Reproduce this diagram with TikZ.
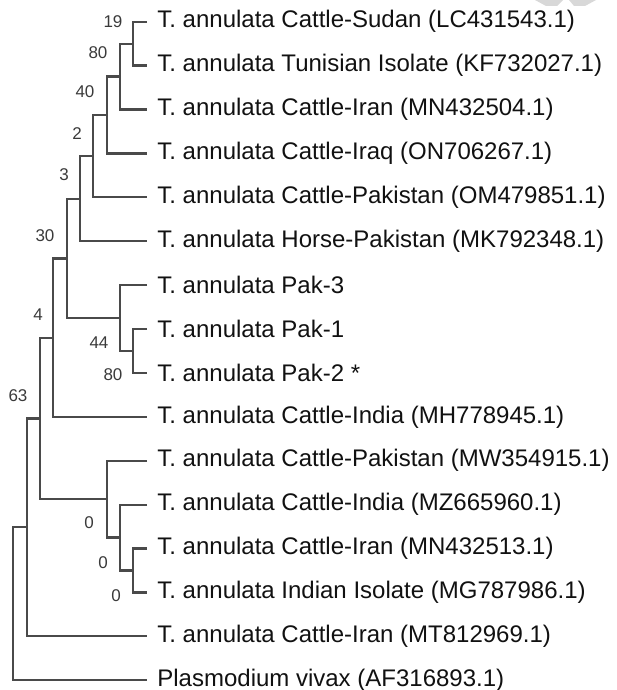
\documentclass[tikz,border=0pt]{standalone}
\usepackage{fontspec}
\setmainfont{Liberation Sans}
\definecolor{TreeGray}{HTML}{4A4A4A}
\definecolor{BootGray}{HTML}{3A3A3A}
\definecolor{TaxonBlack}{HTML}{111111}
\definecolor{MarkGray}{HTML}{D8D8D8}
\usetikzlibrary{calc, positioning}

\tikzset{
  taxon/.style={anchor=west, inner sep=0pt, inner xsep=5pt,
     font=\fontsize{12}{14}\selectfont, text=TaxonBlack},
  boot/.style={font=\fontsize{8.5}{10}\selectfont, text=BootGray, inner sep=0pt},
  branch/.style={TreeGray, line width=1.1pt}
}

\begin{document}
\begin{tikzpicture}[x=0.5pt, y=-0.5pt]
   \useasboundingbox (0,0) rectangle (616,690);
   % faint mark, top right
   \fill[MarkGray] (535,0) -- (563,0) -- (557,6) -- (546,6) -- cycle;
   \fill[MarkGray] (569,0) -- (596,0) -- (585,6) -- (574,6) -- cycle;
   % taxa
   \node[taxon] (sudan) at (147,21.7) {T. annulata Cattle-Sudan (LC431543.1)};
   \node[taxon] (tunis) at (147,65.6) {T. annulata Tunisian Isolate (KF732027.1)};
   \node[taxon] (iranA) at (147,109.5) {T. annulata Cattle-Iran (MN432504.1)};
   \node[taxon] (iraq) at (147,153.4) {T. annulata Cattle-Iraq (ON706267.1)};
   \node[taxon] (pakA) at (147,197.3) {T. annulata Cattle-Pakistan (OM479851.1)};
   \node[taxon] (horse) at (147,241.2) {T. annulata Horse-Pakistan (MK792348.1)};
   \node[taxon] (pak3) at (147,285.1) {T. annulata Pak-3};
   \node[taxon] (pak1) at (147,329.0) {T. annulata Pak-1};
   \node[taxon] (pak2) at (147,372.9) {T. annulata Pak-2 *};
   \node[taxon] (indiaA) at (147,416.8) {T. annulata Cattle-India (MH778945.1)};
   \node[taxon] (pakB) at (147,460.7) {T. annulata Cattle-Pakistan (MW354915.1)};
   \node[taxon] (indiaB) at (147,504.6) {T. annulata Cattle-India (MZ665960.1)};
   \node[taxon] (iranB) at (147,548.5) {T. annulata Cattle-Iran (MN432513.1)};
   \node[taxon] (indIso) at (147,592.4) {T. annulata Indian Isolate (MG787986.1)};
   \node[taxon] (iranC) at (147,636.3) {T. annulata Cattle-Iran (MT812969.1)};
   \node[taxon] (vivax) at (147,680.2) {Plasmodium vivax (AF316893.1)};
   % inner nodes
   \coordinate (kA) at (133,43.65);
   \coordinate (kB) at (120,76.6);
   \coordinate (kC) at (107,115.0);
   \coordinate (kD) at (93,156.1);
   \coordinate (kE) at (80,198.7);
   \coordinate (kP1) at (133,350.95);
   \coordinate (kP) at (120,318.0);
   \coordinate (kF) at (67,258.4);
   \coordinate (kG) at (53,337.6);
   \coordinate (kQ3) at (133,570.45);
   \coordinate (kQ2) at (120,537.5);
   \coordinate (kQ) at (107,499.1);
   \coordinate (kH) at (40,418.4);
   \coordinate (kI) at (27,527.3);
   \coordinate (kRoot) at (13,603.8);
   % branches
   \draw[branch] (sudan.west) -| (kA) |- (tunis.west);
   \draw[branch] (kA) -| (kB) |- (iranA.west);
   \draw[branch] (kB) -| (kC) |- (iraq.west);
   \draw[branch] (kC) -| (kD) |- (pakA.west);
   \draw[branch] (kD) -| (kE) |- (horse.west);
   \draw[branch] (pak1.west) -| (kP1) |- (pak2.west);
   \draw[branch] (pak3.west) -| (kP) |- (kP1);
   \draw[branch] (kE) -| (kF) |- (kP);
   \draw[branch] (kF) -| (kG) |- (indiaA.west);
   \draw[branch] (iranB.west) -| (kQ3) |- (indIso.west);
   \draw[branch] (indiaB.west) -| (kQ2) |- (kQ3);
   \draw[branch] (pakB.west) -| (kQ) |- (kQ2);
   \draw[branch] (kG) -| (kH) |- (kQ);
   \draw[branch] (kH) -| (kI) |- (iranC.west);
   \draw[branch] (kI) -| (kRoot) |- (vivax.west);
   % bootstrap values
   \node[boot] at ($(kA)+(-20,-22)$) {19};
   \node[boot] at ($(kB)+(-22,-24)$) {80};
   \node[boot] at ($(kC)+(-22,-23)$) {40};
   \node[boot] at ($(kD)+(-16,-23)$) {2};
   \node[boot] at ($(kE)+(-16,-24)$) {3};
   \node[boot] at ($(kF)+(-22,-23)$) {30};
   \node[boot] at ($(kG)+(-15,-23)$) {4};
   \node[boot] at ($(kP)+(-21,25)$) {44};
   \node[boot] at ($(kP1)+(-20,24)$) {80};
   \node[boot] at ($(kH)+(-22,-23)$) {63};
   \node[boot] at ($(kQ)+(-18,24)$) {0};
   \node[boot] at ($(kQ2)+(-17,25)$) {0};
   \node[boot] at ($(kQ3)+(-17,25)$) {0};
\end{tikzpicture}
\end{document}
